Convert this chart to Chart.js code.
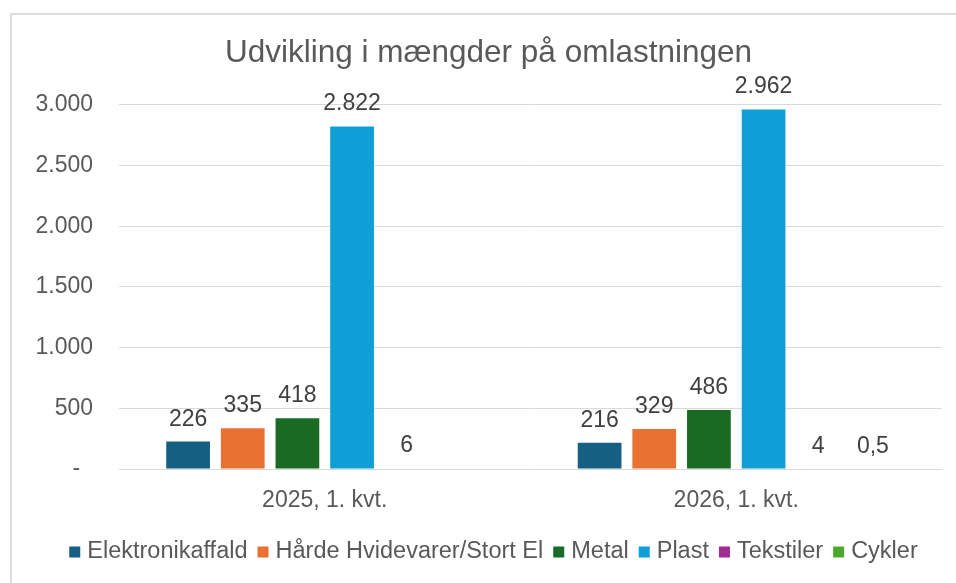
<!DOCTYPE html>
<html>
<head>
<meta charset="utf-8">
<script src="https://cdn.jsdelivr.net/npm/chart.js@4"></script>
<style>
    html, body { margin: 0; padding: 0; background: #fff; }
    #ramme { position: absolute; left: 10px; top: 13px; width: 1000px; height: 600px; border-top: 2px solid #dcdcdc; border-left: 2px solid #dcdcdc; }
    canvas { position: absolute; left: 0; top: 0; }
</style>
</head>
<body>
<div id="ramme"></div>
<canvas id="grafik" width="956" height="583"></canvas>
<script>
const kategorier = ["2025, 1. kvt.", "2026, 1. kvt."];
const serier = ["Elektronikaffald", "Hårde Hvidevarer/Stort El", "Metal", "Plast", "Tekstiler", "Cykler"];
const elektronikaffald = [226, 216];
const hvidevarer = [335, 329];
const metal = [418, 486];
const plast = [2822, 2962];
const tekstiler = [6, 4];
const cykler = [null, 0.5];
const farver = ["#156082", "#e97132", "#196b24", "#0f9ed5", "#a02b93", "#4ea72e"];
const yMin = 0;
const yMax = 3000;
const yTrin = 500;

const skrift = "'Liberation Sans', Arial, sans-serif";
const tekstFarve = "#595959";

// dansk talformat: 2.822 og 0,5
function dansk(v) {
    const dele = String(v).split(".");
    const hel = dele[0].replace(/\B(?=(\d{3})+(?!\d))/g, ".");
    return dele[1] ? hel + "," + dele[1] : hel;
}

const vaerdier = [elektronikaffald, hvidevarer, metal, plast, tekstiler, cykler];

const etiketter = {
    id: "etiketter",
    afterDatasetsDraw(chart) {
        const ctx = chart.ctx;
        ctx.save();
        ctx.font = "23px " + skrift;
        ctx.fillStyle = "#404040";
        ctx.textAlign = "center";
        ctx.textBaseline = "alphabetic";
        chart.data.datasets.forEach((ds, i) => {
            chart.getDatasetMeta(i).data.forEach((bar, j) => {
                if (ds.data[j] === null) return;
                ctx.fillText(dansk(ds.data[j]), bar.x, bar.y - 16);
            });
        });
        ctx.restore();
    }
};

const forklaring = {
    id: "forklaring",
    afterDraw(chart) {
        const ctx = chart.ctx;
        const boks = 11, luft = 7, mellem = 10, midt = 493.5, y = 552;
        ctx.save();
        ctx.font = "23.5px " + skrift;
        ctx.textBaseline = "middle";
        ctx.textAlign = "left";
        const bredder = chart.data.datasets.map((ds) => ctx.measureText(ds.label).width);
        const total = bredder.reduce((a, b) => a + boks + luft + b, 0) + mellem * (bredder.length - 1);
        let x = midt - total / 2;
        chart.data.datasets.forEach((ds, i) => {
            ctx.fillStyle = farver[i];
            ctx.fillRect(x, y - boks / 2, boks, boks);
            ctx.fillStyle = tekstFarve;
            ctx.fillText(ds.label, x + boks + luft, y);
            x += boks + luft + bredder[i] + mellem;
        });
        ctx.restore();
    }
};

// søjler under en pixel ses ikke i forlægget
function farve(i) {
    return (c) => {
        const skala = c.chart.scales.y;
        if (skala && c.raw != null) {
            const h = Math.abs(skala.getPixelForValue(c.raw) - skala.getPixelForValue(0));
            if (h < 1) return "rgba(0,0,0,0)";
        }
        return farver[i];
    };
}

const ctx = document.getElementById("grafik").getContext("2d");
new Chart(ctx, {
    type: "bar",
    data: {
        labels: kategorier,
        datasets: serier.map((navn, i) => ({
            label: navn,
            data: vaerdier[i],
            backgroundColor: farve(i),
            borderWidth: 0,
            categoryPercentage: 0.797,
            barPercentage: 0.8,
        })),
    },
    options: {
        responsive: false,
        animation: false,
        devicePixelRatio: 1,
        layout: { padding: { left: 35, right: 14, top: 0, bottom: 0 } },
        plugins: {
            legend: { display: false },
            tooltip: { enabled: false },
            title: {
                display: true,
                text: "Udvikling i mængder på omlastningen",
                color: tekstFarve,
                font: { family: skrift, size: 31.5, weight: "normal" },
                padding: { top: 34, bottom: 33 },
            },
        },
        scales: {
            x: {
                grid: { display: false },
                border: { display: false },
                ticks: { color: tekstFarve, font: { family: skrift, size: 23 }, padding: 10 },
                afterFit: (s) => { s.height = 114; },
            },
            y: {
                min: yMin,
                max: yMax,
                grid: { color: "#d9d9d9", lineWidth: 1, drawTicks: false },
                border: { display: false },
                ticks: {
                    stepSize: yTrin,
                    padding: 26,
                    color: tekstFarve,
                    font: { family: skrift, size: 23 },
                    callback: (v) => (v === 0 ? "-  " : dansk(v)),
                },
                afterFit: (s) => { s.width = 84; },
            },
        },
    },
    plugins: [etiketter, forklaring],
});
</script>
</body>
</html>
